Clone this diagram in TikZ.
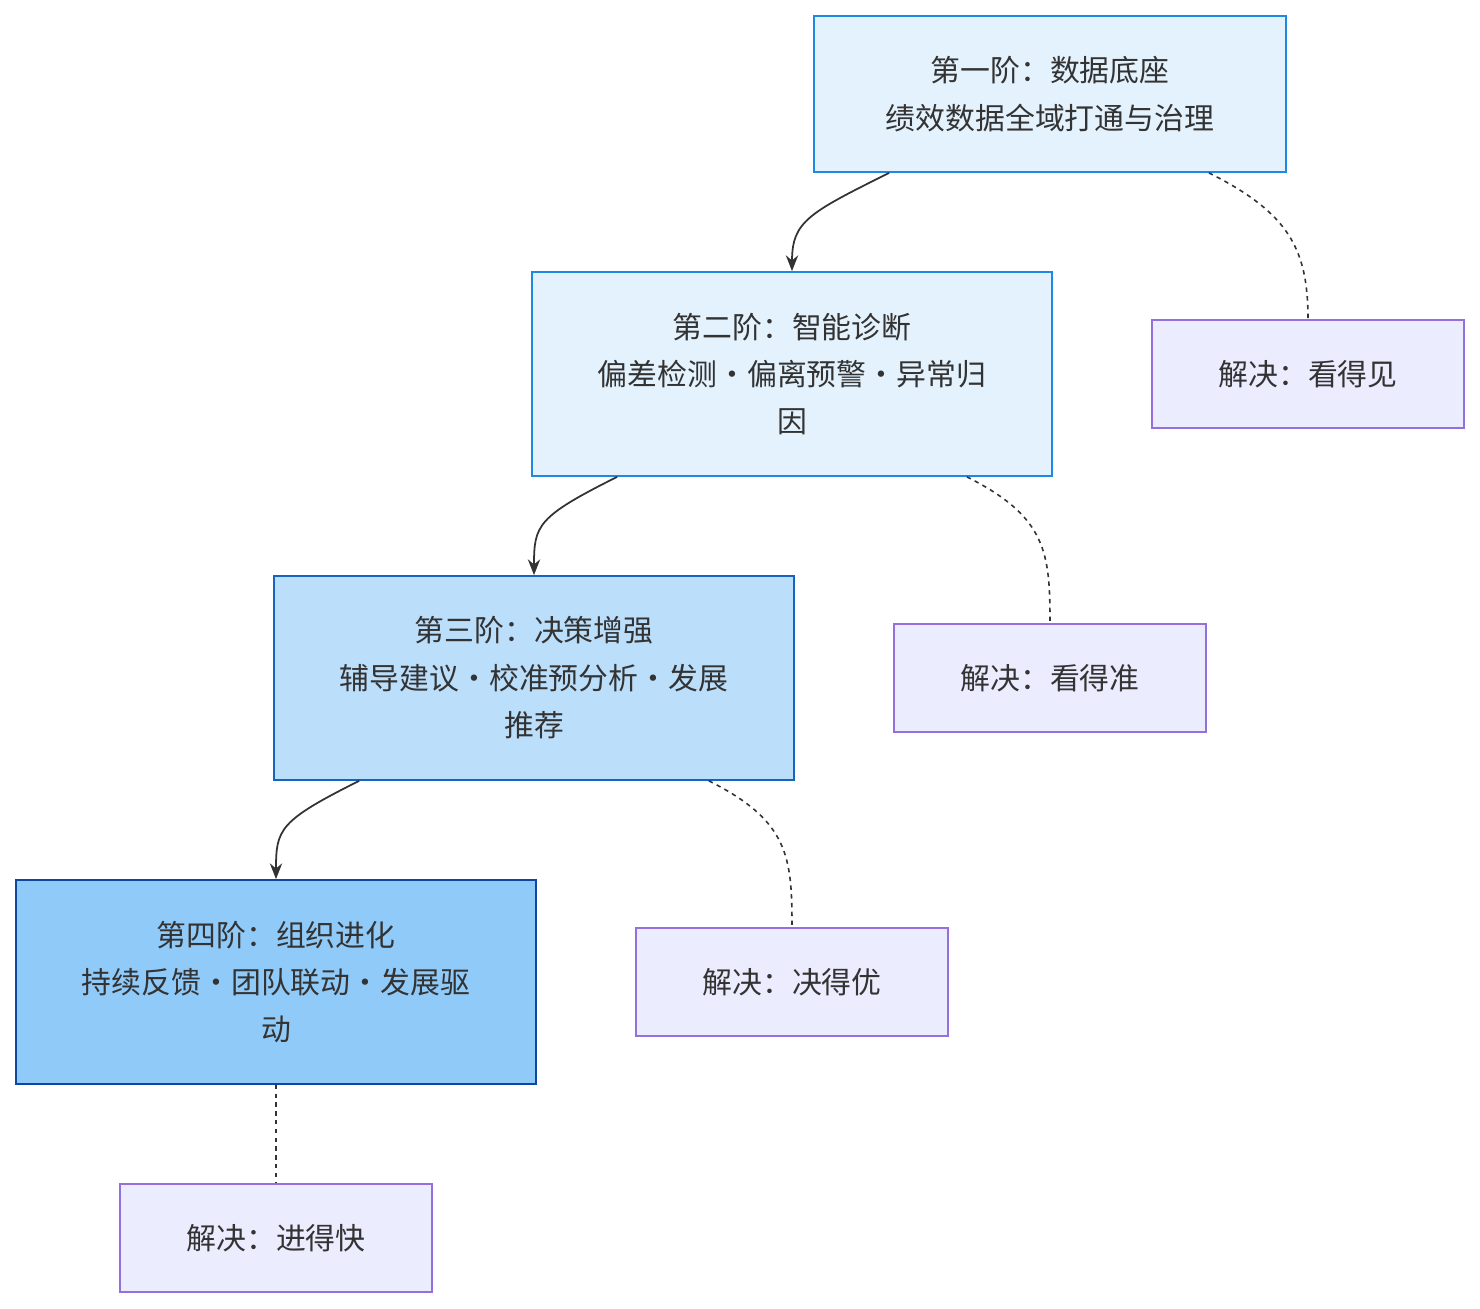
\documentclass[tikz,border=0pt]{standalone}
\usepackage{fontspec}
\setmainfont{Noto Sans CJK SC}
\usetikzlibrary{arrows.meta}
\definecolor{stepfill}{HTML}{E3F2FD}
\definecolor{stepline}{HTML}{1E88E5}
\definecolor{midfill}{HTML}{BBDEFB}
\definecolor{midline}{HTML}{1565C0}
\definecolor{topfill}{HTML}{90CAF9}
\definecolor{topline}{HTML}{0D47A1}
\definecolor{resfill}{HTML}{ECECFF}
\definecolor{resline}{HTML}{9370DB}
\definecolor{ink}{HTML}{333333}
\tikzset{
    box/.style={draw,line width=1pt,align=center,text=ink,inner sep=0pt,
        font=\fontsize{17}{27}\selectfont},
    stage/.style={box,minimum width=10.4cm,minimum height=4.08cm},
    result/.style={box,fill=resfill,draw=resline,minimum width=6.24cm,minimum height=2.16cm},
    flow/.style={draw=ink,line width=1pt,-{Stealth[length=9pt,width=7pt]}},
    link/.style={draw=ink,line width=0.9pt,dash pattern=on 2.5pt off 2.5pt},
}
\begin{document}
\begin{tikzpicture}[x=0.02cm,y=-0.02cm]
    \useasboundingbox (0,0) rectangle (1480,1308);
    % stages
    \node[stage,fill=stepfill,draw=stepline,minimum width=9.44cm,minimum height=3.12cm] (s1) at (1050,94) {第一阶：数据底座\\绩效数据全域打通与治理};
    \node[stage,fill=stepfill,draw=stepline] (s2) at (792,374) {第二阶：智能诊断\\偏差检测·偏离预警·异常归\\因};
    \node[stage,fill=midfill,draw=midline] (s3) at (534,678) {第三阶：决策增强\\辅导建议·校准预分析·发展\\推荐};
    \node[stage,fill=topfill,draw=topline] (s4) at (276,982) {第四阶：组织进化\\持续反馈·团队联动·发展驱\\动};
    % results
    \node[result] (r1) at (1308,374) {解决：看得见};
    \node[result] (r2) at (1050,678) {解决：看得准};
    \node[result] (r3) at (792,982) {解决：决得优};
    \node[result] (r4) at (276,1238) {解决：进得快};
    % stage to stage
    \draw[flow] ([xshift=1.52cm]s1.south west) .. controls +(-80,40) and +(0,-50) .. (s2.north);
    \draw[flow] ([xshift=1.72cm]s2.south west) .. controls +(-80,40) and +(0,-50) .. (s3.north);
    \draw[flow] ([xshift=1.72cm]s3.south west) .. controls +(-80,40) and +(0,-50) .. (s4.north);
    % stage to result
    \draw[link] ([xshift=-1.56cm]s1.south east) .. controls +(80,40) and +(0,-70) .. (r1.north);
    \draw[link] ([xshift=-1.72cm]s2.south east) .. controls +(80,40) and +(0,-70) .. (r2.north);
    \draw[link] ([xshift=-1.72cm]s3.south east) .. controls +(80,40) and +(0,-70) .. (r3.north);
    \draw[link] (s4.south) -- (r4.north);
\end{tikzpicture}
\end{document}
